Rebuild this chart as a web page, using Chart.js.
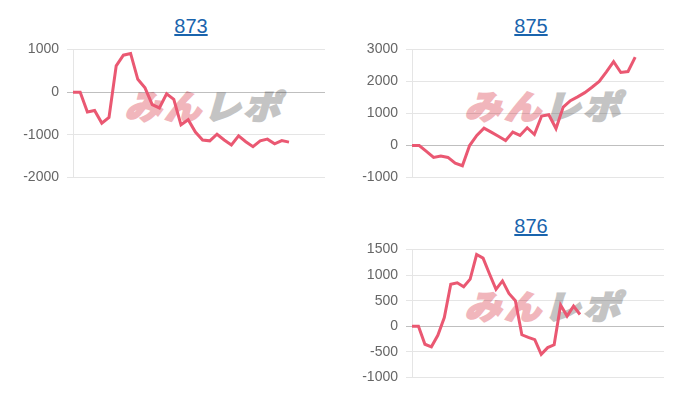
<!DOCTYPE html>
<html lang="ja">
<head>
<meta charset="UTF-8">
<title>873 / 875 / 876</title>
<script src="https://cdn.jsdelivr.net/npm/chart.js"></script>
<style>
  html, body { margin: 0; padding: 0; background: #fff; }
  body { width: 700px; height: 400px; position: relative; overflow: hidden; font-family: "Liberation Sans", Arial, sans-serif; }
  .title { position: absolute; width: 340px; text-align: center; font-size: 20px; line-height: 24px; }
  .title a { color: #1a64ad; text-decoration: underline; }
  .logo { position: absolute; font-family: "Noto Sans CJK JP", sans-serif; font-weight: 900; font-size: 33px; line-height: 32px;
          letter-spacing: 3px; transform: skewX(-16deg) scaleX(1.1); transform-origin: left bottom; white-space: nowrap; }
  .logo .pink { color: #f1b6bc; -webkit-text-stroke: 2px #f1b6bc; }
  .logo .gray { color: #c4c4c4; -webkit-text-stroke: 2px #c4c4c4; }
  canvas { position: absolute; }
</style>
</head>
<body>
  <div class="title" style="left:21px; top:14px;"><a href="#">873</a></div>
  <div class="title" style="left:361px; top:14px;"><a href="#">875</a></div>
  <div class="title" style="left:361px; top:214px;"><a href="#">876</a></div>

  <div class="logo" style="left:124px; top:89px;"><span class="pink">みん</span><span class="gray">レポ</span></div>
  <div class="logo" style="left:464px; top:89px;"><span class="pink">みん</span><span class="gray">レポ</span></div>
  <div class="logo" style="left:464px; top:289px;"><span class="pink">みん</span><span class="gray">レポ</span></div>

  <canvas id="c873" width="306" height="161" style="left:21px; top:33px;"></canvas>
  <canvas id="c875" width="306" height="161" style="left:360px; top:33px;"></canvas>
  <canvas id="c876" width="306" height="161" style="left:360px; top:233px;"></canvas>

<script>
// x categories (hidden on the axis)
const labels873 = [1,2,3,4,5,6,7,8,9,10,11,12,13,14,15,16,17,18,19,20,21,22,23,24,25,26,27,28,29,30,31,32,33,34,35,36];
const labels875 = [1,2,3,4,5,6,7,8,9,10,11,12,13,14,15,16,17,18,19,20,21,22,23,24,25,26,27,28,29,30,31,32,33,34,35,36];
const labels876 = [1,2,3,4,5,6,7,8,9,10,11,12,13,14,15,16,17,18,19,20,21,22,23,24,25,26,27,28,29,30,31,32,33,34,35,36,37,38,39,40];

// 差枚 values
const values873 = [0, 0, -465, -430, -725, -590, 615, 865, 905, 300, 100, -290, -370, -40, -170, -765,
                   -645, -935, -1120, -1140, -985, -1120, -1235, -1025, -1160, -1275, -1140, -1100, -1210, -1135, -1170];
const values875 = [0, 0, -180, -370, -330, -370, -550, -630, 0, 315, 545, 420, 290, 155, 420, 315,
                   555, 345, 920, 960, 530, 1200, 1400, 1520, 1650, 1820, 2000, 2300, 2620, 2280, 2310, 2760];
const values876 = [0, 0, -350, -400, -175, 170, 820, 850, 770, 920, 1400, 1330, 1020, 720, 885, 640,
                   500, -165, -215, -260, -545, -415, -360, 415, 200, 395, 230];

// y tick labels
const ticks873 = [-2000, -1000, 0, 1000];
const ticks875 = [-1000, 0, 1000, 2000, 3000];
const ticks876 = [-1000, -500, 0, 500, 1000, 1500];

function makeChart(id, labels, values, ticks) {
    new Chart(document.getElementById(id), {
        type: 'line',
        data: {
            labels: labels,
            datasets: [{
                data: values,
                borderColor: 'rgb(234, 88, 114)',
                borderWidth: 3,
                pointRadius: 0,
                pointHoverRadius: 0,
                tension: 0,
                fill: false
            }]
        },
        options: {
            responsive: false,
            animation: false,
            layout: { padding: { top: 0, bottom: 0, right: 2, left: 0 } },
            plugins: { legend: { display: false }, tooltip: { enabled: false } },
            scales: {
                x: { display: false },
                y: {
                    min: ticks[0],
                    max: ticks[ticks.length - 1],
                    afterFit: function(scale) { scale.width = 52; },
                    ticks: {
                        stepSize: ticks[1] - ticks[0],
                        color: '#666',
                        padding: 8,
                        font: { family: '"Liberation Sans", Arial, sans-serif', size: 14 },
                        callback: function(v) { return String(v); }
                    },
                    grid: {
                        tickLength: 6,
                        color: function(ctx) {
                            return ctx.tick && ctx.tick.value === 0 ? 'rgba(0,0,0,0.25)' : 'rgba(0,0,0,0.1)';
                        }
                    },
                    border: { color: 'rgba(0,0,0,0.1)' }
                }
            }
        }
    });
}

makeChart('c873', labels873, values873, ticks873);
makeChart('c875', labels875, values875, ticks875);
makeChart('c876', labels876, values876, ticks876);
</script>
</body>
</html>
